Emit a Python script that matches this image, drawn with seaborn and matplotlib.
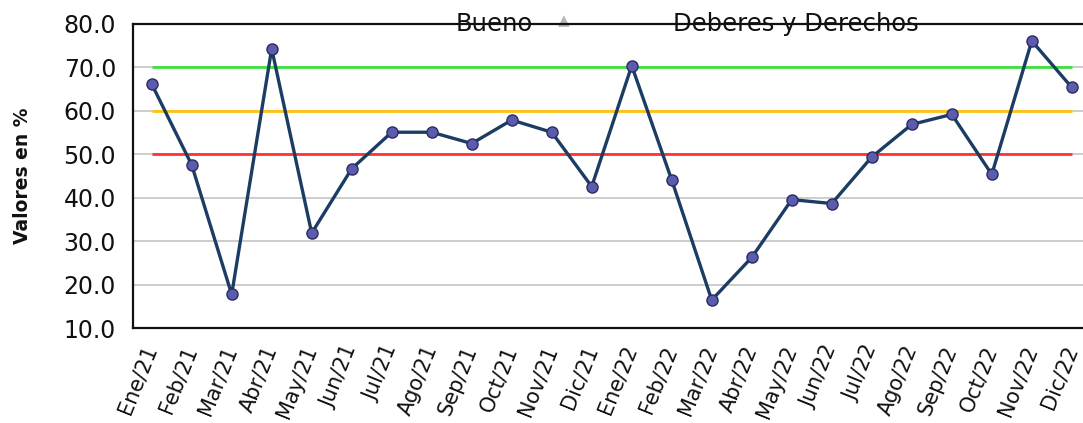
import matplotlib
matplotlib.use("Agg")
import matplotlib.pyplot as plt
import seaborn as sns
import pandas as pd

months = ["Ene/21", "Feb/21", "Mar/21", "Abr/21", "May/21", "Jun/21", "Jul/21", "Ago/21",
          "Sep/21", "Oct/21", "Nov/21", "Dic/21", "Ene/22", "Feb/22", "Mar/22", "Abr/22",
          "May/22", "Jun/22", "Jul/22", "Ago/22", "Sep/22", "Oct/22", "Nov/22", "Dic/22"]
values = [66.2, 47.6, 17.8, 74.3, 31.9, 46.7, 55.1, 55.1, 52.5, 57.9, 55.1, 42.6,
          70.4, 44.1, 16.5, 26.3, 39.6, 38.7, 49.4, 56.9, 59.2, 45.4, 76.1, 65.4]
thresholds = [70, 60, 50]
threshold_colors = ["#3ee03e", "#ffc20e", "#ff3333"]
yticks = [10, 20, 30, 40, 50, 60, 70, 80]
title_left = "Bueno"
title_right = "Deberes y Derechos"
ylabel = "Valores en %"

sns.set_style("white")
plt.rcParams["font.family"] = ["DejaVu Sans"]

df = pd.DataFrame({"idx": range(len(months)), "mes": months, "valor": values})

fig = plt.figure(figsize=(10.83, 4.23), dpi=100)
ax = fig.add_axes([0.1225, 0.2239, 0.8775, 0.7194])

# grid lines
for t in yticks[1:-1]:
    ax.axhline(t, color="#c8c8c8", lw=1.3, zorder=1)

# thresholds
for t, c in zip(thresholds, threshold_colors):
    ax.hlines(t, 0, len(months) - 1, color=c, lw=2.0, zorder=2)

sns.lineplot(data=df, x="idx", y="valor", ax=ax, color="#1c3d63", lw=2.4,
             marker="o", markersize=8, markerfacecolor="#5b5cab",
             markeredgecolor="#2b2b66", markeredgewidth=1.0, zorder=4)

ax.set_xlim(-0.475, 23.28)
ax.set_ylim(10, 80)
ax.set_yticks(yticks)
ax.set_yticklabels([f"{v:.1f}" for v in yticks], fontsize=17, color="#111111")
ax.set_xticks(df["idx"])
ax.set_xticklabels(months, rotation=68, ha="right", va="center", rotation_mode="anchor",
                   fontsize=15, color="#111111")
ax.tick_params(axis="y", direction="out", length=8, width=1.5, color="black", pad=4)
ax.tick_params(axis="x", direction="out", length=7, width=1.5, color="black", pad=6)
ax.set_xlabel("")
ax.set_ylabel(ylabel, fontsize=13.5, fontweight="bold", color="#111111")
ax.yaxis.set_label_coords(-0.106, 0.5)

for s in ["left", "bottom", "top"]:
    ax.spines[s].set_visible(True)
    ax.spines[s].set_color("#111111")
    ax.spines[s].set_linewidth(1.6)
ax.spines["right"].set_visible(False)

ax.text(0.381, 1.0, title_left, transform=ax.transAxes, ha="center", va="center",
        fontsize=17.5, color="#111111", zorder=2)
ax.text(0.698, 1.0, title_right, transform=ax.transAxes, ha="center", va="center",
        fontsize=17.5, color="#111111", zorder=2)
ax.text(0.454, 1.01, "\u25B2", transform=ax.transAxes, ha="center", va="center",
        fontsize=11, color="#b5b5b5", zorder=2)

fig.savefig("out.png", dpi=100)
